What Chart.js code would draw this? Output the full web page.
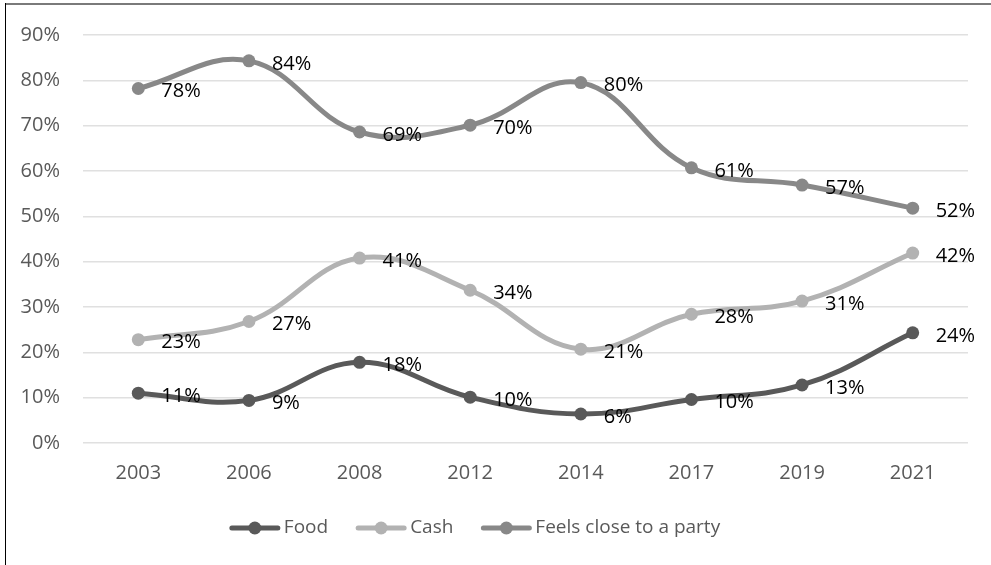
<!DOCTYPE html>
<html><head><meta charset="utf-8">
<script src="https://cdn.jsdelivr.net/npm/chart.js@4.4.1/dist/chart.umd.min.js"></script>
<style>html,body{margin:0;padding:0;background:#fff;}canvas{display:block;}</style>
</head><body>
<canvas id="c" width="991" height="565"></canvas>
<script>
const categories = ['2003', '2006', '2008', '2012', '2014', '2017', '2019', '2021'];
const food  = [11.0, 9.4, 17.8, 10.1, 6.4, 9.6, 12.8, 24.3];
const cash  = [22.8, 26.8, 40.8, 33.7, 20.7, 28.4, 31.3, 41.9];
const feels = [78.2, 84.3, 68.6, 70.1, 79.5, 60.7, 56.9, 51.8];
const seriesNames = ['Food', 'Cash', 'Feels close to a party'];
const yMin = 0, yMax = 90, yStep = 10;

const FONT = "'Open Sans', 'Liberation Sans', sans-serif";
const colors = ['#595959', '#b2b2b2', '#888888'];

const frame = {
  id: 'frame',
  afterDraw(chart) {
    const ctx = chart.ctx;
    ctx.save();
    ctx.strokeStyle = '#7a7a7a'; ctx.lineWidth = 2;
    ctx.beginPath(); ctx.moveTo(5, 4); ctx.lineTo(991, 4); ctx.stroke();
    ctx.strokeStyle = '#000'; ctx.lineWidth = 1;
    ctx.beginPath(); ctx.moveTo(5.5, 3); ctx.lineTo(5.5, 565); ctx.stroke();
    ctx.restore();
  }
};

const dataLabels = {
  id: 'dataLabels',
  afterDatasetsDraw(chart) {
    const ctx = chart.ctx;
    ctx.save();
    ctx.font = '20px ' + FONT;
    ctx.fillStyle = '#000';
    ctx.textAlign = 'left';
    ctx.textBaseline = 'middle';
    chart.data.datasets.forEach((ds, i) => {
      const meta = chart.getDatasetMeta(i);
      meta.data.forEach((pt, j) => {
        ctx.fillText(Math.round(ds.data[j]) + '%', pt.x + 23, pt.y + 3);
      });
    });
    ctx.restore();
  }
};

const customLegend = {
  id: 'customLegend',
  afterDraw(chart) {
    const ctx = chart.ctx;
    ctx.save();
    ctx.font = '19px ' + FONT;
    const lineW = 50, gapText = 4, gapItem = 28, cy = 528;
    const items = chart.data.datasets.map(ds => ({ label: ds.label, color: ds.borderColor, w: ctx.measureText(ds.label).width }));
    let total = items.reduce((s, it) => s + lineW + gapText + it.w, 0) + gapItem * (items.length - 1);
    let x = 475 - total / 2;
    items.forEach(it => {
      ctx.strokeStyle = it.color; ctx.lineWidth = 5; ctx.lineCap = 'round';
      ctx.beginPath(); ctx.moveTo(x + 2, cy); ctx.lineTo(x + lineW - 2, cy); ctx.stroke();
      ctx.fillStyle = it.color;
      ctx.beginPath(); ctx.arc(x + lineW / 2, cy, 6.5, 0, Math.PI * 2); ctx.fill();
      ctx.fillStyle = '#595959'; ctx.textAlign = 'left'; ctx.textBaseline = 'middle';
      ctx.fillText(it.label, x + lineW + gapText, cy);
      x += lineW + gapText + it.w + gapItem;
    });
    ctx.restore();
  }
};

function mkDs(label, data, color, order) {
  return {
    label, data, order,
    borderColor: color, backgroundColor: color,
    pointBackgroundColor: color, pointBorderColor: color,
    borderWidth: 5, pointRadius: 6.5, pointBorderWidth: 0,
    tension: 0.4, fill: false, clip: false
  };
}

new Chart(document.getElementById('c'), {
  type: 'line',
  data: {
    labels: categories,
    datasets: [
      mkDs(seriesNames[0], food, colors[0], 3),
      mkDs(seriesNames[1], cash, colors[1], 2),
      mkDs(seriesNames[2], feels, colors[2], 1)
    ]
  },
  options: {
    responsive: false,
    animation: false,
    devicePixelRatio: 1,
    layout: { padding: { left: 0, right: 23, top: 35, bottom: 0 } },
    plugins: { legend: { display: false }, tooltip: { enabled: false } },
    scales: {
      x: {
        offset: true,
        grid: { display: false, drawTicks: false },
        border: { display: false },
        ticks: { color: '#595959', font: { family: FONT, size: 20 }, padding: 18, maxRotation: 0 },
        afterFit(s) { s.height = 122; }
      },
      y: {
        min: yMin, max: yMax,
        grid: { color: '#e0e0e0', lineWidth: 1.5, drawTicks: false },
        border: { display: false },
        ticks: { stepSize: yStep, color: '#595959', font: { family: FONT, size: 20 }, padding: 23, callback: v => v + '%' },
        afterFit(s) { s.width = 83; }
      }
    }
  },
  plugins: [frame, dataLabels, customLegend]
});
</script>
</body></html>
